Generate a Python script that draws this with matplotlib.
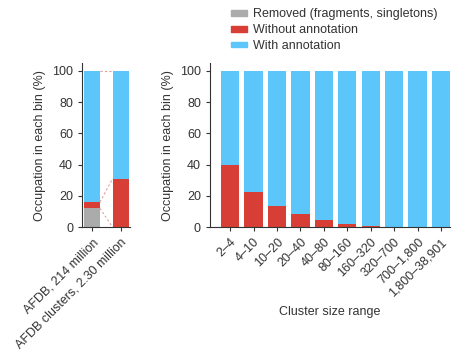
import numpy as np
import matplotlib.pyplot as plt
from matplotlib.patches import Patch

# Дані
db_labels = ['AFDB, 214 million', 'AFDB clusters, 2.30 million']
db_removed = [12, 0]
db_without = [4, 31]
db_with = [84, 69]

size_ranges = ['2–4', '4–10', '10–20', '20–40', '40–80', '80–160',
               '160–320', '320–700', '700–1,800', '1,800–38,901']
size_without = [39.5, 22.5, 13.5, 8.5, 4.8, 2.2, 0.8, 0.1, 0, 0]
size_with = [100 - v for v in size_without]

c_gray = '#ABABAB'
c_red = '#D73F36'
c_blue = '#5CC5FA'
txt = '#333333'

plt.rcParams['font.family'] = ['Liberation Sans', 'DejaVu Sans']
plt.rcParams['font.size'] = 9
plt.rcParams['text.color'] = txt
plt.rcParams['axes.labelcolor'] = txt
plt.rcParams['xtick.color'] = txt
plt.rcParams['ytick.color'] = txt
plt.rcParams['axes.edgecolor'] = txt

fig = plt.figure(figsize=(4.56, 3.5), dpi=100)
ax1 = fig.add_axes([0.180, 0.351, 0.105, 0.469])
ax2 = fig.add_axes([0.4605, 0.351, 0.527, 0.469])

# Ліва панель
w1 = 0.56
x1 = np.arange(len(db_labels))
rem = np.array(db_removed)
wo = np.array(db_without)
wi = np.array(db_with)
ax1.bar(x1, rem, w1, color=c_gray)
ax1.bar(x1, wo, w1, bottom=rem, color=c_red)
ax1.bar(x1, wi, w1, bottom=rem + wo, color=c_blue)

xa, xb = x1[0] + w1 / 2, x1[1] - w1 / 2
ax1.plot([xa, xb], [100, 100], ls=(0, (2, 2)), color='#E59A96', lw=0.8)
ax1.plot([xa, xb], [rem[0] + wo[0], rem[1] + wo[1]], ls=(0, (2, 2)), color='#E59A96', lw=0.8)
ax1.plot([xa, xb], [rem[0], 0], ls=(0, (2, 2)), color='#D9A9A7', lw=0.8)

ax1.set_xlim(-0.35, 1.33)
ax1.set_xticks(x1)
ax1.set_xticklabels(db_labels, rotation=45, ha='right', rotation_mode='anchor')
ax1.set_ylabel('Occupation in each bin (%)')

# Права панель
w2 = 0.78
x2 = np.arange(len(size_ranges))
ax2.bar(x2, size_without, w2, color=c_red)
ax2.bar(x2, size_with, w2, bottom=size_without, color=c_blue)
ax2.set_xlim(-0.86, 9.4)
ax2.set_xticks(x2)
ax2.set_xticklabels(size_ranges, rotation=45, ha='right', rotation_mode='anchor')
ax2.set_ylabel('Occupation in each bin (%)')
ax2.set_xlabel('Cluster size range', labelpad=5)

for ax in (ax1, ax2):
    ax.set_ylim(0, 105)
    ax.set_yticks([0, 20, 40, 60, 80, 100])
    ax.spines['top'].set_visible(False)
    ax.spines['right'].set_visible(False)
    ax.tick_params(length=3, width=0.8, direction='out')

handles = [Patch(color=c_gray), Patch(color=c_red), Patch(color=c_blue)]
fig.legend(handles, ['Removed (fragments, singletons)', 'Without annotation', 'With annotation'],
           loc='upper left', bbox_to_anchor=(0.495, 0.99), frameon=False,
           handlelength=1.3, handleheight=0.35, handletextpad=0.5, labelspacing=0.3,
           borderaxespad=0)

fig.savefig('out.png', dpi=100)
